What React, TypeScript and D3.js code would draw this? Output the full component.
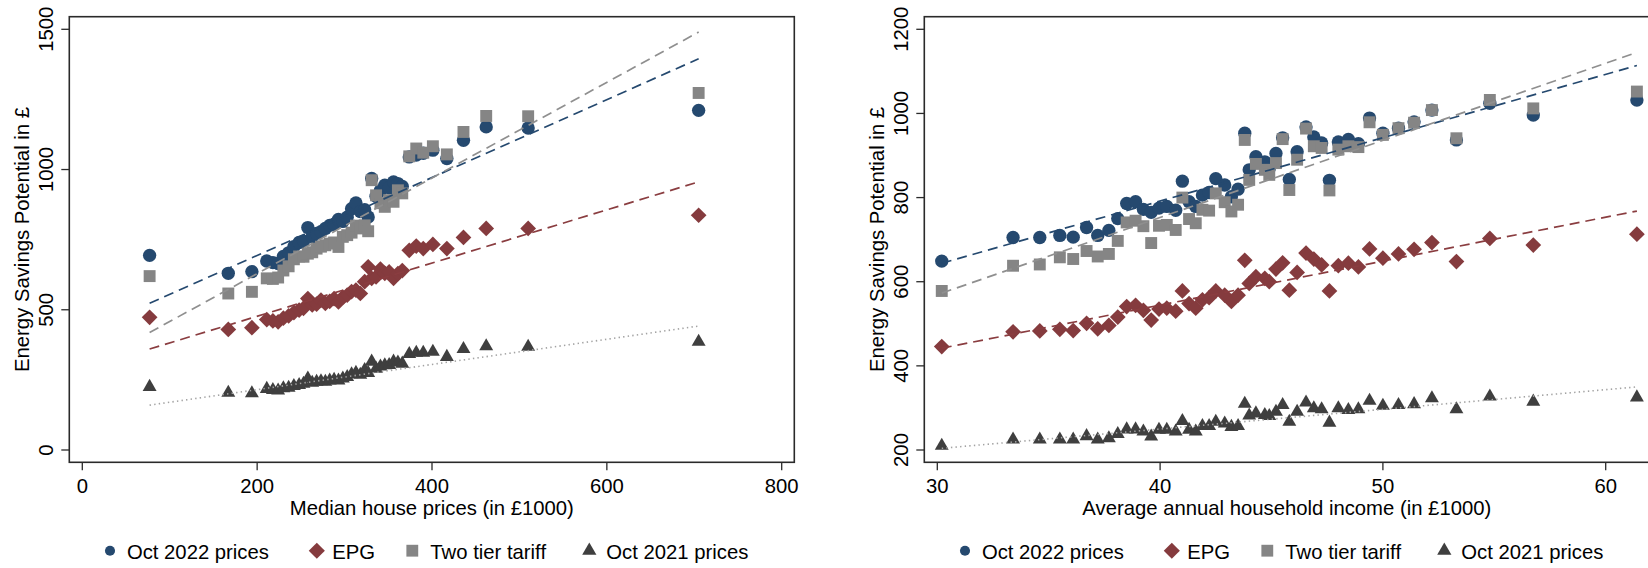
import React from "react";
import * as d3 from "d3";

// ---------------- DATA ----------------
// Left panel: median house prices (in £1000)
const leftX = [77, 167, 194, 211, 218, 224, 230, 236, 242, 248, 253, 258, 263, 268, 273, 278, 283, 288, 293, 298,
  303, 308, 313, 318, 323, 327, 331, 336, 341, 346, 351, 356, 361, 366, 374, 382, 390, 401, 417, 436, 462, 510, 705];
const leftOct22 = [694, 630, 636, 674, 668, 665, 690, 703, 725, 740, 745, 793, 760, 772, 778, 790, 801, 805, 822, 815,
  830, 860, 881, 850, 857, 831, 968, 905, 925, 944, 935, 956, 950, 940, 1045, 1052, 1058, 1069, 1039, 1104, 1152, 1148, 1211];
const leftEPG = [473, 430, 436, 465, 460, 457, 470, 478, 490, 499, 505, 540, 517, 520, 534, 523, 530, 540, 528, 545,
  552, 565, 570, 558, 600, 653, 612, 617, 645, 630, 635, 612, 629, 640, 712, 727, 718, 733, 718, 758, 790, 790, 837];
const leftTwoTier = [620, 558, 564, 612, 610, 615, 640, 655, 680, 690, 689, 700, 705, 718, 725, 730, 736, 740, 724, 760,
  766, 775, 800, 790, 801, 780, 962, 908, 880, 867, 891, 885, 926, 915, 1047, 1075, 1060, 1083, 1054, 1134, 1191, 1190, 1273];
const leftOct21 = [225, 204, 202, 218, 214, 212, 220, 222, 228, 232, 236, 255, 240, 243, 245, 243, 248, 250, 248, 255,
  260, 270, 275, 268, 285, 275, 315, 290, 298, 302, 303, 315, 312, 308, 342, 347, 347, 350, 332, 360, 370, 368, 386];
// fitted lines (values at ends of the x range)
const leftFitX = [77, 705];
const leftFitOct22 = [523, 1395];
const leftFitEPG = [360, 956];
const leftFitTwoTier = [419, 1490];
const leftFitOct21 = [160, 442];
const leftXTicks = [0, 200, 400, 600, 800];
const leftYTicks = [0, 500, 1000, 1500];

// Right panel: average annual household income (in £1000)
const rightX = [30.2, 33.4, 34.6, 35.5, 36.1, 36.7, 37.2, 37.7, 38.1, 38.5, 38.9, 39.25, 39.6, 39.95, 40.3, 40.7, 41.0,
  41.3, 41.6, 41.9, 42.2, 42.5, 42.9, 43.2, 43.5, 43.8, 44.0, 44.3, 44.7, 44.9, 45.2, 45.5, 45.8, 46.15, 46.55, 46.9,
  47.25, 47.6, 48.0, 48.45, 48.9, 49.4, 50.0, 50.7, 51.4, 52.2, 53.3, 54.8, 56.75, 61.4];
const rightOct22 = [649, 705, 705, 710, 706, 729, 710, 722, 750, 786, 790, 772, 765, 775, 779, 770, 839,
  790, 779, 806, 812, 845, 830, 802, 820, 953, 866, 897, 885, 870, 905, 942, 843, 909, 968, 944,
  930, 841, 932, 938, 928, 989, 953, 965, 980, 1008, 937, 1024, 996, 1032];
const rightEPG = [446, 481, 483, 487, 484, 501, 488, 496, 516, 541, 544, 532, 509, 535, 537, 530, 578,
  548, 537, 557, 562, 578, 568, 553, 568, 651, 596, 612, 608, 600, 630, 645, 580, 622, 668, 654,
  640, 578, 638, 644, 635, 678, 656, 666, 677, 693, 648, 703, 687, 713];
const rightTwoTier = [578, 638, 641, 658, 654, 673, 660, 666, 697, 741, 745, 732, 692, 733, 735, 723, 800,
  749, 739, 771, 769, 810, 789, 767, 783, 937, 842, 880, 866, 854, 882, 939, 818, 890, 964, 922,
  918, 817, 914, 922, 920, 979, 949, 965, 978, 1008, 941, 1032, 1012, 1052];
const rightOct21 = [210, 225, 225, 225, 225, 233, 225, 228, 238, 249, 249, 244, 232, 248, 248, 244, 269,
  248, 244, 257, 257, 267, 263, 255, 257, 310, 282, 287, 283, 281, 291, 307, 267, 291, 313, 299,
  297, 265, 299, 295, 297, 317, 305, 307, 309, 323, 297, 327, 315, 325];
const rightFitX = [30.2, 61.4];
const rightFitOct22 = [644, 1114];
const rightFitEPG = [442, 768];
const rightFitTwoTier = [573, 1145];
const rightFitOct21 = [204, 350];
const rightXTicks = [30, 40, 50, 60];
const rightYTicks = [200, 400, 600, 800, 1000, 1200];

const seriesNames = ["Oct 2022 prices", "EPG", "Two tier tariff", "Oct 2021 prices"];

// ---------------- STYLE ----------------
const FONT = "'Liberation Sans', Arial, Helvetica, sans-serif";
const FS = 20.3;
const NAVY = "#25496f";
const MAROON = "#853b3e";
const GREY = "#858585";
const DARK = "#3f3f3f";
const colors = [NAVY, MAROON, GREY, DARK];
const lineColors = [NAVY, "#8a3d40", "#8f8f8f", "#a3a3a3"];
const dashes = ["10,6", "10,6", "10,6", "1.4,3.2"];

const symCircle = d3.symbol().type(d3.symbolCircle).size(140)();
const symSquare = d3.symbol().type(d3.symbolSquare).size(142)();
const symDiamond = d3.symbol().type(d3.symbolSquare).size(124)();
const symTriangle = d3.symbol().type(d3.symbolTriangle).size(84)();
const legCircle = d3.symbol().type(d3.symbolCircle).size(80)();
const legSquare = d3.symbol().type(d3.symbolSquare).size(140)();
const legDiamond = d3.symbol().type(d3.symbolSquare).size(130)();
const legTriangle = d3.symbol().type(d3.symbolTriangle).size(88)();

type PanelProps = {
  frameX: [number, number];
  xDomain: [number, number];
  xRange: [number, number];
  yDomain: [number, number];
  xs: number[];
  series: number[][]; // oct22, epg, twoTier, oct21
  fitX: number[];
  fits: number[][];
  xTicks: number[];
  yTicks: number[];
  xLabel: string;
};

const FRAME_TOP = 16.7;
const FRAME_BOTTOM = 462.3;

function Panel(p: PanelProps) {
  const x = d3.scaleLinear().domain(p.xDomain).range(p.xRange);
  const y = d3.scaleLinear().domain(p.yDomain).range([450, 29.3]);
  const [fx0, fx1] = p.frameX;
  const midX = (fx0 + fx1) / 2;
  const line = d3.line<[number, number]>().x((d) => x(d[0])).y((d) => y(d[1]));
  const shapes = [symCircle, symDiamond, symSquare, symTriangle];
  const rot = [0, 45, 0, 0];
  const drawOrder = [0, 1, 2, 3];
  const legendOffsets = [
    { m: 40.7, t: 57.6, sym: legCircle, rot: 0 },
    { m: 247.5, t: 263, sym: legDiamond, rot: 45 },
    { m: 343, t: 361, sym: legSquare, rot: 0 },
    { m: 520, t: 537, sym: legTriangle, rot: 0 },
  ];
  return (
    <g>
      {/* frame */}
      <rect x={fx0} y={FRAME_TOP} width={fx1 - fx0} height={FRAME_BOTTOM - FRAME_TOP} fill="none" stroke="#2a2a2a" strokeWidth={1.6} />
      {/* y ticks */}
      {p.yTicks.map((t) => (
        <g key={"y" + t}>
          <line x1={fx0 - 8} x2={fx0} y1={y(t)} y2={y(t)} stroke="#2a2a2a" strokeWidth={1.3} />
          <text transform={`translate(${fx0 - 16.5},${y(t)}) rotate(-90)`} textAnchor="middle" fontFamily={FONT} fontSize={FS} fill="#000">
            {t}
          </text>
        </g>
      ))}
      <text transform={`translate(${fx0 - 40},${(FRAME_TOP + FRAME_BOTTOM) / 2}) rotate(-90)`} textAnchor="middle" fontFamily={FONT} fontSize={FS} fill="#000">
        Energy Savings Potential in £
      </text>
      {/* x ticks */}
      {p.xTicks.map((t) => (
        <g key={"x" + t}>
          <line x1={x(t)} x2={x(t)} y1={FRAME_BOTTOM} y2={FRAME_BOTTOM + 8} stroke="#2a2a2a" strokeWidth={1.3} />
          <text x={x(t)} y={492.5} textAnchor="middle" fontFamily={FONT} fontSize={FS} fill="#000">
            {t}
          </text>
        </g>
      ))}
      <text x={midX} y={514.8} textAnchor="middle" fontFamily={FONT} fontSize={FS} fill="#000">
        {p.xLabel}
      </text>
      {/* scatter */}
      {drawOrder.map((si) => (
        <g key={"s" + si} fill={colors[si]}>
          {p.xs.map((xv, i) => (
            <path key={i} d={shapes[si] as string} transform={`translate(${x(xv)},${y(p.series[si][i])}) rotate(${rot[si]})`} />
          ))}
        </g>
      ))}
      {/* fit lines */}
      {[0, 1, 2, 3].map((si) => (
        <path
          key={"f" + si}
          d={line(p.fitX.map((xv, i) => [xv, p.fits[si][i]] as [number, number])) as string}
          fill="none"
          stroke={lineColors[si]}
          strokeWidth={si === 3 ? 1.6 : 1.7}
          strokeDasharray={dashes[si]}
        />
      ))}
      {/* legend */}
      {legendOffsets.map((l, i) => (
        <g key={"l" + i}>
          <path d={l.sym as string} fill={colors[i]} transform={`translate(${fx0 + l.m},${550.7}) rotate(${l.rot})`} />
          <text x={fx0 + l.t} y={558.5} fontFamily={FONT} fontSize={FS} fill="#000">
            {seriesNames[i]}
          </text>
        </g>
      ))}
    </g>
  );
}

export default function App() {
  return (
    <svg width={1648} height={568} style={{ position: "absolute", left: 0, top: 0, background: "#fff" }}>
      <rect x={0} y={0} width={1648} height={568} fill="#fff" />
      <Panel
        frameX={[69.3, 794.3]}
        xDomain={[0, 800]}
        xRange={[82.3, 781.7]}
        yDomain={[0, 1500]}
        xs={leftX}
        series={[leftOct22, leftEPG, leftTwoTier, leftOct21]}
        fitX={leftFitX}
        fits={[leftFitOct22, leftFitEPG, leftFitTwoTier, leftFitOct21]}
        xTicks={leftXTicks}
        yTicks={leftYTicks}
        xLabel="Median house prices (in £1000)"
      />
      <Panel
        frameX={[924.3, 1649.3]}
        xDomain={[30, 60]}
        xRange={[937.3, 1605.7]}
        yDomain={[200, 1200]}
        xs={rightX}
        series={[rightOct22, rightEPG, rightTwoTier, rightOct21]}
        fitX={rightFitX}
        fits={[rightFitOct22, rightFitEPG, rightFitTwoTier, rightFitOct21]}
        xTicks={rightXTicks}
        yTicks={rightYTicks}
        xLabel="Average annual household income (in £1000)"
      />
    </svg>
  );
}
